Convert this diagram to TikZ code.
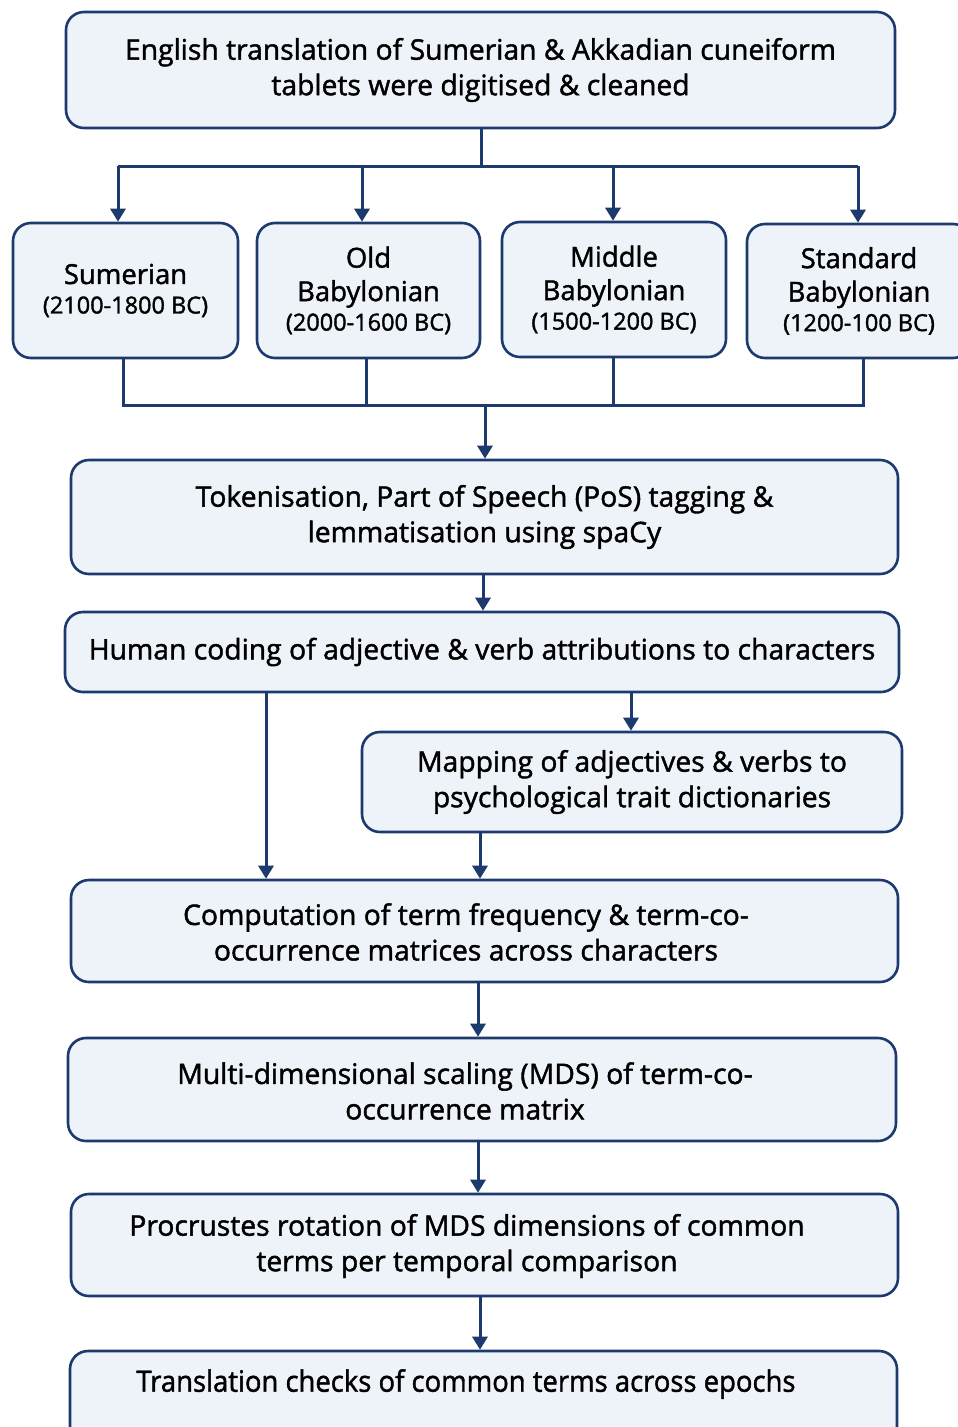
\documentclass[tikz,border=0pt]{standalone}
\usepackage{fontspec}
\setmainfont{Open Sans}[FakeBold=1.5]
\usetikzlibrary{arrows.meta}
\definecolor{bdr}{RGB}{28,58,110}
\definecolor{boxfill}{RGB}{238,243,250}
\begin{document}
\begin{tikzpicture}[x=1pt,y=-1pt,
  box/.style={draw=bdr,line width=2.6pt,fill=boxfill,rounded corners=18pt,inner sep=0pt,align=center,font=\fontsize{28.3}{35.5}\selectfont},
  sbox/.style={box,font=\fontsize{27.5}{33.5}\selectfont},
  lbl/.style={inner sep=0pt,align=center,font=\fontsize{28.3}{35.5}\selectfont},
  conn/.style={draw=bdr,line width=3pt},
  arr/.style={conn,-{Triangle[width=15pt,length=13pt]}}
]
\clip (0,0) rectangle (958,1427);
\useasboundingbox (0,0) rectangle (958,1427);
\fill[white] (0,0) rectangle (958,1427);

\node[box,minimum width=829pt,minimum height=116pt] (b1) at (480.5,70) {English translation of Sumerian \& Akkadian cuneiform\\tablets were digitised \& cleaned};

\node[sbox,minimum width=225pt,minimum height=135pt] (s1) at (125.5,290.5) {Sumerian\\[-4pt]{\fontsize{23.5}{26}\selectfont(2100-1800 BC)}};
\node[sbox,minimum width=223pt,minimum height=135pt] (s2) at (368.5,290.5) {Old\\Babylonian\\[-4pt]{\fontsize{23.5}{26}\selectfont(2000-1600 BC)}};
\node[sbox,minimum width=224pt,minimum height=135pt] (s3) at (614,289.5) {Middle\\Babylonian\\[-4pt]{\fontsize{23.5}{26}\selectfont(1500-1200 BC)}};
\node[sbox,minimum width=224pt,minimum height=134pt] (s4) at (859,291) {Standard\\Babylonian\\[-4pt]{\fontsize{23.5}{26}\selectfont(1200-100 BC)}};

\node[box,minimum width=827pt,minimum height=114pt] (b2) at (484.5,517) {Tokenisation, Part of Speech (PoS) tagging \&\\lemmatisation using spaCy};
\node[box,minimum width=834pt,minimum height=80pt] (b3) at (482,652) {Human coding of adjective \& verb attributions to characters};
\node[box,minimum width=540pt,minimum height=100pt] (b4) at (632,782) {Mapping of adjectives \& verbs to\\psychological trait dictionaries};
\node[box,minimum width=827pt,minimum height=102pt] (b5) at (484.5,931) {};
\node[lbl] (t5) at (466,932) {Computation of term frequency \& term-co-\\occurrence matrices across characters};
\node[box,minimum width=828pt,minimum height=103pt] (b6) at (482,1089.5) {};
\node[lbl] (t6) at (465,1091) {Multi-dimensional scaling (MDS) of term-co-\\occurrence matrix};
\node[box,minimum width=827pt,minimum height=102pt] (b7) at (484.5,1245) {};
\node[lbl] (t7) at (467,1246) {Procrustes rotation of MDS dimensions of common\\terms per temporal comparison};
\node[box,minimum width=827pt,minimum height=110pt] (b8) at (483.5,1406) {};
\node[lbl] (t8) at (466,1384) {\scalebox{0.97}[1.04]{Translation checks of common terms across epochs}};

% fan out
\coordinate (j1) at (481,166);
\draw[conn] (b1.south -| j1) -- (j1);
\draw[conn] (118,166) -- (858,166);
\draw[arr] (118,166) -- (s1.north -| 118,0);
\draw[arr] (362,166) -- (s2.north -| 362,0);
\draw[arr] (613,166) -- (s3.north -| 613,0);
\draw[arr] (858,166) -- (s4.north -| 858,0);

% fan in
\coordinate (j2) at (485,405);
\draw[conn] (s1.south -| 123,0) |- (j2);
\draw[conn] (s4.south -| 863,0) |- (j2);
\draw[conn] (s2.south -| 366,0) -- (366,405);
\draw[conn] (s3.south -| 613,0) -- (613,405);
\draw[arr] (j2) -- (b2.north -| j2);

\draw[arr] (b2.south -| 483,0) -- (b3.north -| 483,0);
\draw[arr] (b3.south -| 266,0) -- (b5.north -| 266,0);
\draw[arr] (b3.south -| 631,0) -- (b4.north -| 631,0);
\draw[arr] (b4.south -| 480,0) -- (b5.north -| 480,0);
\draw[arr] (b5.south -| 478,0) -- (b6.north -| 478,0);
\draw[arr] (b6.south -| 478,0) -- (b7.north -| 478,0);
\draw[arr] (b7.south -| 480,0) -- (b8.north -| 480,0);
\end{tikzpicture}
\end{document}
